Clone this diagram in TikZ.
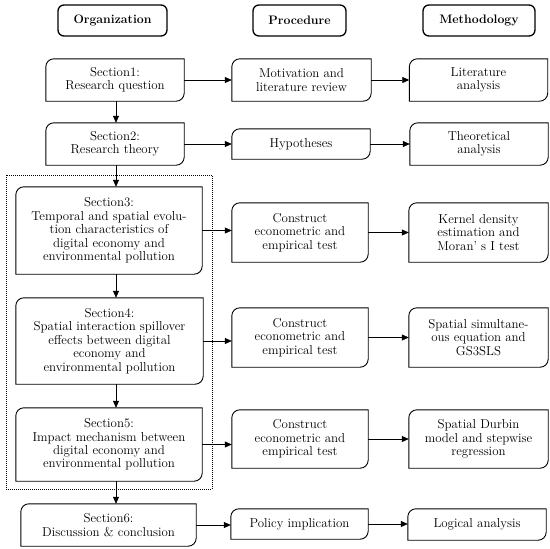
\documentclass[tikz,border=0pt]{standalone}
\usetikzlibrary{arrows.meta}
\newlength\rrad
\setlength\rrad{8pt}
\newcommand\dround[1]{\draw[boxline] ([xshift=\rrad]#1.north west) -- (#1.north east) -- ([yshift=\rrad]#1.south east) arc[start angle=0,end angle=-90,radius=\rrad] -- (#1.south west) -- ([yshift=-\rrad]#1.north west) arc[start angle=180,end angle=90,radius=\rrad] -- cycle;}
\tikzset{
  txt/.style={inner sep=0pt, align=center, font=\fontsize{12.9}{13.4}\selectfont},
  box/.style={txt, minimum width=#1},
  hdr/.style={txt, draw, line width=1.3pt, rounded corners=6pt, minimum height=31pt, font=\fontsize{12.3}{13.4}\selectfont\bfseries},
  boxline/.style={line width=0.9pt},
  arr/.style={line width=0.6pt, -{Triangle[length=7pt,width=6pt]}},
}
\begin{document}
\begin{tikzpicture}[x=1pt,y=1pt]
\useasboundingbox (0,0) rectangle (550,-549);
% headers
\node[hdr, minimum width=109pt] (h1) at (112.5,-20.5) {Organization};
\node[hdr, minimum width=93pt] (h2) at (299.5,-20.5) {Procedure};
\node[hdr, minimum width=112pt] (h3) at (479,-20.5) {Methodology};
% dotted frame
\draw[densely dotted, line width=1pt] (6,-175) rectangle (212,-489);
% row 1
\node[box=138pt, minimum height=42pt] (s1) at (115,-80) {Section1:\\Research question};
\node[box=139pt, minimum height=42pt] (p1) at (301.5,-80) {Motivation and\\literature review};
\node[box=138pt, minimum height=42pt] (m1) at (478.5,-80) {Literature\\analysis};
% row 2
\node[box=138pt, minimum height=42pt] (s2) at (115,-144) {Section2:\\Research theory};
\node[box=138pt, minimum height=30pt] (p2) at (301,-144) {Hypotheses};
\node[box=138pt, minimum height=42pt] (m2) at (479,-144) {Theoretical\\analysis};
% row 3
\node[box=186pt, minimum height=87pt] (s3) at (109,-230.5) {Section3:\\Temporal and spatial evolu-\\tion characteristics of\\digital economy and\\environmental pollution};
\node[box=136pt, minimum height=59pt] (p3) at (300,-232.5) {Construct\\econometric and\\empirical test};
\node[box=139pt, minimum height=59pt] (m3) at (478.5,-232.5) {Kernel density\\estimation and\\Moran’ s I test};
% row 4
\node[box=187pt, minimum height=86pt] (s4) at (109.5,-341) {Section4:\\Spatial interaction spillover\\effects between digital\\economy and\\environmental pollution};
\node[box=136pt, minimum height=59pt] (p4) at (300,-337.5) {Construct\\econometric and\\empirical test};
\node[box=139pt, minimum height=59pt] (m4) at (478.5,-337.5) {Spatial simultane-\\ous equation and\\GS3SLS};
% row 5
\node[box=186pt, minimum height=73pt] (s5) at (109,-444.5) {Section5:\\Impact mechanism between\\digital economy and\\environmental pollution};
\node[box=136pt, minimum height=58pt] (p5) at (300,-439) {Construct\\econometric and\\empirical test};
\node[box=139pt, minimum height=58pt] (m5) at (478.5,-439) {Spatial Durbin\\model and stepwise\\regression};
% row 6
\node[box=175pt, minimum height=42pt] (s6) at (108.5,-525) {Section6:\\Discussion \& conclusion};
\node[box=137pt, minimum height=30pt] (p6) at (299.5,-524) {Policy implication};
\node[box=138pt, minimum height=31pt] (m6) at (477,-524.5) {Logical analysis};
% outlines
\foreach \n in {s1,p1,m1,s2,p2,m2,s3,p3,m3,s4,p4,m4,s5,p5,m5,s6,p6,m6}{\dround{\n}}
% vertical arrows
\coordinate (ax) at (116,0);
\draw[arr] (s1.south -| ax) -- (s2.north -| ax);
\draw[arr] (s2.south -| ax) -- (s3.north -| ax);
\draw[arr] (s3.south -| ax) -- (s4.north -| ax);
\draw[arr] (s4.south -| ax) -- (s5.north -| ax);
\draw[arr] (s5.south -| ax) -- (s6.north -| ax);
% horizontal arrows
\foreach \r in {1,...,6}{
  \draw[arr] (s\r.east) -- (s\r.east -| p\r.west);
  \draw[arr] (p\r.east) -- (p\r.east -| m\r.west);
}
\end{tikzpicture}
\end{document}
